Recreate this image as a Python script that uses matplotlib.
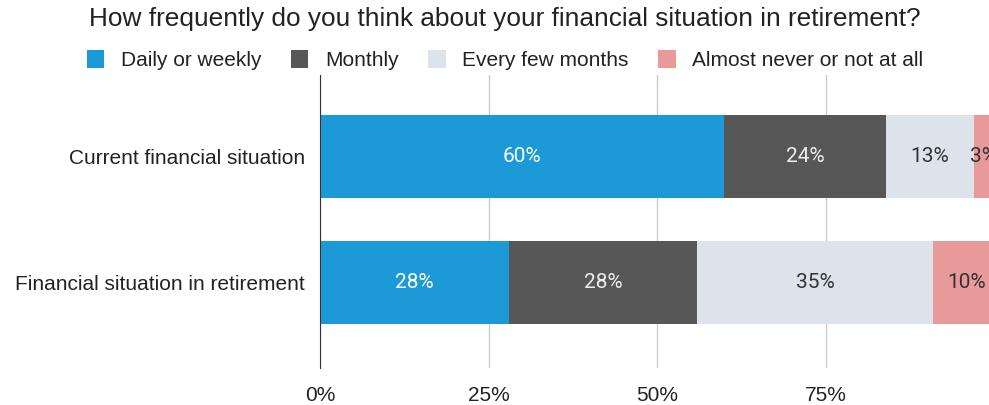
import numpy as np
import matplotlib
matplotlib.use("Agg")
import matplotlib.pyplot as plt
from matplotlib.patches import Patch

# Survey answers, share of respondents (%)
categories = ["Current financial situation", "Financial situation in retirement"]
series_names = ["Daily or weekly", "Monthly", "Every few months", "Almost never or not at all"]
daily_weekly = [60, 28]
monthly = [24, 28]
few_months = [13, 35]
almost_never = [3, 10]
x_ticks = [0, 25, 50, 75]

colors = ["#1b9ad7", "#575757", "#dce3eb", "#e8999a"]
text_colors = ["white", "#eeeeee", "#333333", "#333333"]

plt.rcParams["font.family"] = ["Liberation Sans", "DejaVu Sans"]

fig = plt.figure(figsize=(9.89, 4.05), dpi=100)
# axes run a little past the right edge, so the 100% end is clipped
ax = fig.add_axes([320 / 989, 1 - 368 / 405, 674 / 989, (368 - 75) / 405])

y = np.arange(len(categories))
left = np.zeros(len(categories))
for vals, name, col, tcol in zip([daily_weekly, monthly, few_months, almost_never],
                                 series_names, colors, text_colors):
    vals = np.array(vals, dtype=float)
    bars = ax.barh(y, vals, left=left, height=0.66, color=col, label=name, zorder=3)
    for b, v in zip(bars, vals):
        ax.text(b.get_x() + b.get_width() / 2, b.get_y() + b.get_height() / 2,
                f"{v:.0f}%", ha="center", va="center", color=tcol,
                fontsize=15, family=["Roboto", "DejaVu Sans"], zorder=4)
    left += vals

ax.set_xlim(0, 100)
ax.set_ylim(1.68, -0.65)
ax.set_yticks(y)
ax.set_yticklabels(categories, fontsize=15, color="#222222")
ax.set_xticks(x_ticks)
ax.set_xticklabels([f"{t}%" for t in x_ticks], fontsize=15, color="#222222")
ax.tick_params(length=0)
ax.tick_params(axis="y", pad=11)
ax.tick_params(axis="x", pad=13)
ax.xaxis.grid(True, color="#cccccc", linewidth=1, zorder=0)
for s in ["top", "right", "bottom"]:
    ax.spines[s].set_visible(False)
ax.spines["left"].set_color("#333333")
ax.spines["left"].set_zorder(5)

fig.text(505 / 989, 1 - 19 / 405, "How frequently do you think about your financial situation in retirement?",
         ha="center", va="center", fontsize=18.9, color="#222222")

handles = [Patch(facecolor=c, edgecolor="none") for c in colors]
fig.legend(handles, series_names, loc="center", bbox_to_anchor=(505 / 989, 1 - 60 / 405),
           ncol=4, frameon=False, fontsize=15, handlelength=0.85, handleheight=1.0,
           handletextpad=0.8, columnspacing=1.4, labelcolor="#222222",
           borderpad=0, borderaxespad=0)

fig.savefig("out.png", dpi=100)
